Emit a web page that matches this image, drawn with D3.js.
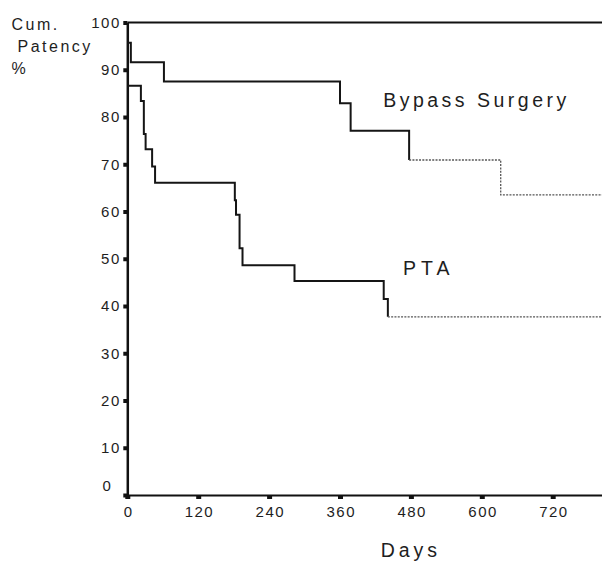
<!DOCTYPE html>
<html lang="en">
<head>
  <meta charset="utf-8">
  <title>Cumulative patency – Bypass Surgery vs PTA</title>
  <script src="https://d3js.org/d3.v7.min.js"></script>
  <style>
    html, body { margin: 0; padding: 0; background: #fff; }
    svg { display: block; }
    text { font-family: "Liberation Sans", Arial, sans-serif; fill: #1e1e1e; }
    .axis path, .axis line { stroke: #111; }
    .axis text { font-size: 15px; letter-spacing: 1.5px; }
    .curve { fill: none; stroke: #151515; stroke-width: 2px; }
    .curve.censored { stroke: #555; stroke-width: 1.3px; stroke-dasharray: 2 1.3; }
    .big { font-size: 19.5px; }
  </style>
</head>
<body>
  <svg></svg>
  <script>
    // Kaplan-Meier steps (days, cum. patency %)
    const bypassDays   = [0, 6, 62, 360, 378, 477];
    const bypassValues = [95.7, 91.6, 87.5, 82.9, 77.1, 70.9];
    // dotted tail (few patients left at risk)
    const bypassTailDays   = [477, 632];
    const bypassTailValues = [70.9, 63.5];

    const ptaDays   = [0, 23, 28, 31, 42, 47, 182, 184, 190, 195, 283, 434, 441];
    const ptaValues = [86.6, 83.4, 76.4, 73.2, 69.5, 66.1, 62.4, 59.3, 52.2, 48.6, 45.3, 41.5, 37.7];
    const ptaTailDays   = [441];
    const ptaTailValues = [37.7];

    const yTicks = d3.range(0, 101, 10);
    const xTicks = d3.range(0, 721, 120);

    const W = 602, H = 561;
    const svg = d3.select("svg").attr("width", W).attr("height", H);

    const x = d3.scaleLinear().domain([0, 720]).range([127.3, 552.7]);
    const xEnd = x.invert(W);
    x.domain([0, xEnd]).range([127.3, W]);
    const y = d3.scaleLinear().domain([0, 100]).range([495, 22.5]);

    // top frame line at 100 %
    svg.append("line")
      .attr("x1", x(0)).attr("x2", x(xEnd))
      .attr("y1", y(100)).attr("y2", y(100))
      .attr("stroke", "#111").attr("stroke-width", 2);

    const yAxis = svg.append("g")
      .attr("class", "axis")
      .attr("transform", `translate(${x(0)},0)`)
      .call(d3.axisLeft(y).tickValues(yTicks).tickSize(4).tickSizeOuter(0).tickPadding(2.5));
    yAxis.select(".domain").attr("stroke-width", 2.5);
    yAxis.selectAll(".tick line").attr("stroke-width", 4);
    // the zero label sits a bit up and to the left in the original
    yAxis.selectAll(".tick text").filter(d => d === 0)
      .attr("x", -15).attr("dy", "-0.3em");

    const xAxis = svg.append("g")
      .attr("class", "axis")
      .attr("transform", `translate(0,${y(0)})`)
      .call(d3.axisBottom(x).tickValues(xTicks).tickSize(4).tickSizeOuter(0).tickPadding(7.5));
    xAxis.select(".domain").attr("stroke-width", 2);
    xAxis.selectAll(".tick line").attr("stroke-width", 5);
    xAxis.selectAll(".tick text").attr("dx", "0.75px");

    const line = d3.line()
      .x(d => x(d[0]))
      .y(d => y(d[1]))
      .curve(d3.curveStepAfter);

    const zip = (a, b) => a.map((d, i) => [d, b[i]]);

    svg.append("path").attr("class", "curve")
      .attr("d", line(zip(bypassDays, bypassValues)));
    svg.append("path").attr("class", "curve censored")
      .attr("d", line(zip(bypassTailDays, bypassTailValues).concat([[xEnd, bypassTailValues[bypassTailValues.length - 1]]])));

    svg.append("path").attr("class", "curve")
      .attr("d", line(zip(ptaDays, ptaValues)));
    svg.append("path").attr("class", "curve censored")
      .attr("d", line(zip(ptaTailDays, ptaTailValues).concat([[xEnd, ptaTailValues[ptaTailValues.length - 1]]])));

    // curve labels
    svg.append("text").attr("class", "big")
      .attr("x", x(433)).attr("y", y(82.2))
      .style("letter-spacing", "3.5px")
      .text("Bypass Surgery");
    svg.append("text").attr("class", "big")
      .attr("x", x(466.5)).attr("y", y(46.6))
      .style("letter-spacing", "5px")
      .text("PTA");

    // axis titles
    svg.append("text").attr("class", "big")
      .attr("x", 380.7).attr("y", 557.3)
      .style("letter-spacing", "4px")
      .text("Days");

    const yTitle = svg.append("text")
      .style("font-size", "16px").style("letter-spacing", "2.5px");
    yTitle.append("tspan").attr("x", 11.5).attr("y", 30).text("Cum.");
    yTitle.append("tspan").attr("x", 17.5).attr("y", 51.7).text("Patency");
    yTitle.append("tspan").attr("x", 11.5).attr("y", 74).text("%");
  </script>
</body>
</html>
